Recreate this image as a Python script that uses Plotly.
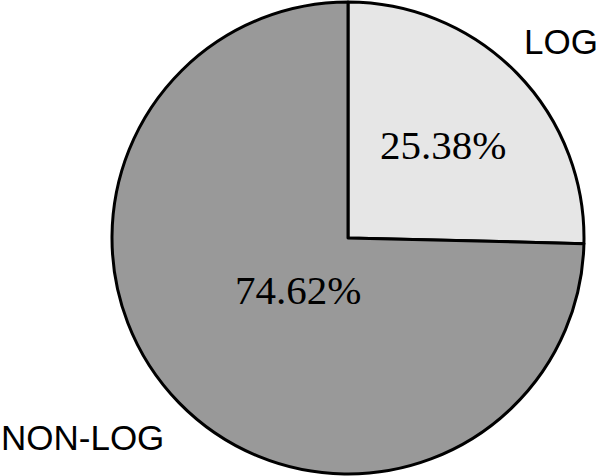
import plotly.graph_objects as go

labels = ["LOG", "NON-LOG"]
values = [25.38, 74.62]
colors = ["#e6e6e6", "#999999"]

W, H = 601, 476

fig = go.Figure()
fig.add_trace(go.Pie(
    labels=labels, values=values, sort=False,
    direction="clockwise", rotation=0,
    marker=dict(colors=colors, line=dict(color="black", width=3)),
    textposition="none",
    domain=dict(x=[112 / W, 584 / W], y=[(H - 474) / H, (H - 2) / H]),
    showlegend=False, hoverinfo="label+percent",
))

# percentages written inside the slices, computed from the data
total = sum(values)
pct_pos = [(443, 145), (298, 290)]
for v, (px, py) in zip(values, pct_pos):
    fig.add_annotation(text=f"{v / total * 100:.2f}%", x=px / W, y=1 - py / H,
                       xref="paper", yref="paper", xanchor="center", yanchor="middle",
                       showarrow=False,
                       font=dict(family="Liberation Serif", size=41, color="black"))

# outside category labels
lab_pos = [(561, 41, "center"), (-1, 437, "left")]
for lab, (px, py, anc) in zip(labels, lab_pos):
    fig.add_annotation(text=lab, x=px / W, y=1 - py / H, xref="paper", yref="paper",
                       xanchor=anc, yanchor="middle", showarrow=False,
                       font=dict(family="Liberation Sans", size=35, color="black"))

fig.update_layout(width=W, height=H, margin=dict(l=0, r=0, t=0, b=0),
                  paper_bgcolor="white", plot_bgcolor="white")
fig.write_html("out.html", config={"displayModeBar": False},
               post_script="document.body.style.margin='0';")
